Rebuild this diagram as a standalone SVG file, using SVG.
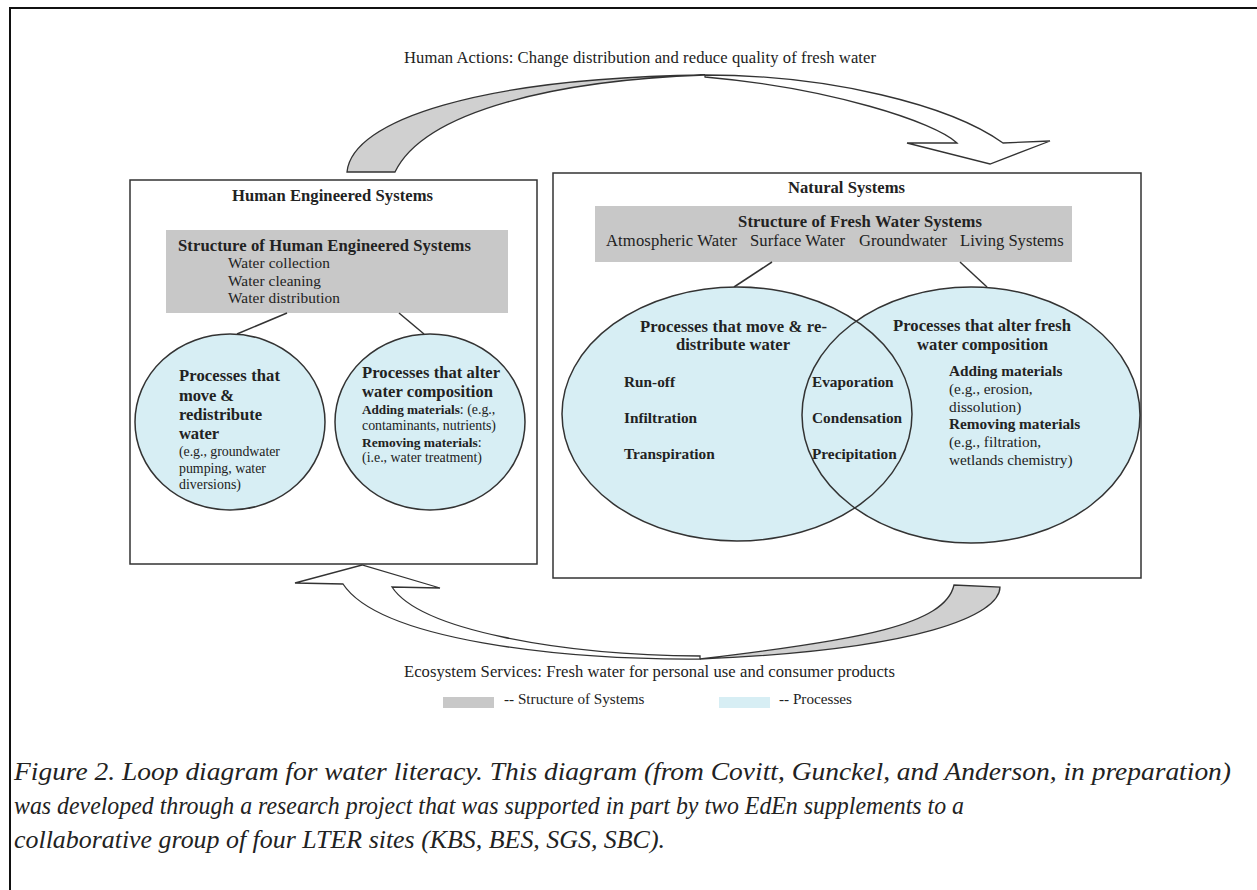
<svg xmlns="http://www.w3.org/2000/svg" width="1257" height="890" viewBox="0 0 1257 890">
<style>
text{font-family:"Liberation Serif","Times New Roman",serif;fill:#222}
.b{font-weight:bold}
.box{fill:#fff;stroke:#333;stroke-width:1.5}
.struct{fill:#c8c8c8}
.pf{fill:#d7eef4}
.ps{fill:none;stroke:#333;stroke-width:1.5}
.link{stroke:#333;stroke-width:1.5;fill:none}
.ag{fill:#d0d0d0;stroke:#333;stroke-width:1.3}
.aw{fill:#fff;stroke:#333;stroke-width:1.3}
.s13{font-size:13.9px}
.s15{font-size:15.3px}
.s16{font-size:16.6px}
.cap{font-style:italic;font-size:26px}
</style>
<rect width="1257" height="890" fill="#fff"/>
<g id="frame"><path d="M10,890 V8 H1257" fill="none" stroke="#111" stroke-width="2"/></g>

<g id="human-box">
<rect class="box" x="130" y="180" width="407" height="384"/>
<text class="b s16" x="232" y="201" textLength="201">Human Engineered Systems</text>
</g>
<g id="natural-box">
<rect class="box" x="553" y="173" width="588" height="405"/>
<text class="b s16" x="788" y="193" textLength="117">Natural Systems</text>
</g>

<g id="human-structure">
<rect class="struct" x="166" y="230" width="342" height="83"/>
<text class="b s16" x="178" y="251" textLength="293">Structure of Human Engineered Systems</text>
<text class="s15" x="228" y="268" textLength="102">Water collection</text>
<text class="s15" x="228" y="286" textLength="93">Water cleaning</text>
<text class="s15" x="228" y="303" textLength="112">Water distribution</text>
</g>
<g id="natural-structure">
<rect class="struct" x="595" y="206" width="477" height="56"/>
<text class="b s16" x="738" y="227" textLength="244">Structure of Fresh Water Systems</text>
<text class="s16" x="606" y="246" textLength="131">Atmospheric Water</text>
<text class="s16" x="750" y="246" textLength="95">Surface Water</text>
<text class="s16" x="859" y="246" textLength="88">Groundwater</text>
<text class="s16" x="960" y="246">Living Systems</text>
</g>

<g id="connectors">
<line class="link" x1="287" y1="313" x2="237" y2="334"/>
<line class="link" x1="399" y1="313" x2="424" y2="334"/>
<line class="link" x1="772" y1="262" x2="734" y2="287"/>
<line class="link" x1="960" y1="262" x2="987" y2="287"/>
<path class="ag" d="M347,172 C352,120 480,78 705,75 C560,80 425,110 395,172 Z"/>
<path class="aw" d="M705,75 C830,75 950,105 1003,143 L1050,141 L990,164 L907,143 L957,143 C935,122 830,88 705,77 Z"/>
<path class="ag" d="M1000,587 C1000,615 920,650 700,659 C860,640 945,625 954,585 Z"/>
<path class="aw" d="M700,659 C560,660 380,640 343,584 L295,583 L362,565 L440,588 L392,587 C420,630 560,655 700,656 Z"/>
</g>

<g id="human-move">
<ellipse class="pf" cx="230" cy="422" rx="95" ry="88"/>
<ellipse class="ps" cx="230" cy="422" rx="95" ry="88"/>
<text class="b s16" x="179" y="381" textLength="101">Processes that</text>
<text class="b s16" x="179" y="401" textLength="55">move &amp;</text>
<text class="b s16" x="179" y="420" textLength="83">redistribute</text>
<text class="b s16" x="179" y="439" textLength="40">water</text>
<text class="s13" x="179" y="456" textLength="101">(e.g., groundwater</text>
<text class="s13" x="179" y="473" textLength="87">pumping, water</text>
<text class="s13" x="179" y="489" textLength="62">diversions)</text>
</g>
<g id="human-alter">
<ellipse class="pf" cx="430" cy="422" rx="95" ry="88"/>
<ellipse class="ps" cx="430" cy="422" rx="95" ry="88"/>
<text class="b s16" x="362" y="378" textLength="138">Processes that alter</text>
<text class="b s16" x="362" y="397" textLength="131">water composition</text>
<text class="s13" x="362" y="414"><tspan class="b" font-size="13.2px">Adding materials</tspan>: (e.g.,</text>
<text class="s13" x="362" y="430" textLength="134">contaminants, nutrients)</text>
<text class="s13" x="362" y="447"><tspan class="b" font-size="13.5px">Removing materials</tspan>:</text>
<text class="s13" x="362" y="462" textLength="120">(i.e., water treatment)</text>
</g>

<g id="natural-processes">
<ellipse class="pf" cx="737" cy="414" rx="175" ry="127"/>
<ellipse class="pf" cx="971" cy="415" rx="169" ry="128"/>
<ellipse class="ps" cx="737" cy="414" rx="175" ry="127"/>
<ellipse class="ps" cx="971" cy="415" rx="169" ry="128" stroke-width="2"/>
</g>
<g id="natural-move">
<text class="b s16" x="640" y="332" textLength="187">Processes that move &amp; re-</text>
<text class="b s16" x="676" y="350" textLength="114">distribute water</text>
<text class="b s15" x="624" y="387">Run-off</text>
<text class="b s15" x="624" y="423">Infiltration</text>
<text class="b s15" x="624" y="459">Transpiration</text>
</g>
<g id="natural-shared">
<text class="b s15" x="812" y="387">Evaporation</text>
<text class="b s15" x="812" y="423">Condensation</text>
<text class="b s15" x="812" y="459">Precipitation</text>
</g>
<g id="natural-alter">
<text class="b s16" x="893" y="331" textLength="178">Processes that alter fresh</text>
<text class="b s16" x="917" y="350" textLength="131">water composition</text>
<text class="b s15" x="949" y="376">Adding materials</text>
<text class="s15" x="949" y="394">(e.g., erosion,</text>
<text class="s15" x="949" y="412">dissolution)</text>
<text class="b s15" x="949" y="429">Removing materials</text>
<text class="s15" x="949" y="447">(e.g., filtration,</text>
<text class="s15" x="949" y="465">wetlands chemistry)</text>
</g>

<g id="labels">
<text class="s16" x="404" y="63" textLength="472">Human Actions: Change distribution and reduce quality of fresh water</text>
<text class="s16" x="404" y="677" textLength="491">Ecosystem Services: Fresh water for personal use and consumer products</text>
</g>

<g id="legend">
<rect class="struct" x="443" y="697" width="51" height="11"/>
<text x="504" y="704" font-size="15.2px">-- Structure of Systems</text>
<rect class="pf" x="719" y="697" width="51" height="11"/>
<text x="779" y="704" font-size="15.2px">-- Processes</text>
</g>

<g id="caption">
<text class="cap" x="14" y="780" textLength="1217" lengthAdjust="spacingAndGlyphs">Figure 2. Loop diagram for water literacy. This diagram (from Covitt, Gunckel, and Anderson, in preparation)</text>
<text class="cap" x="14" y="814" textLength="950" lengthAdjust="spacingAndGlyphs">was developed through a research project that was supported in part by two EdEn supplements to a</text>
<text class="cap" x="14" y="848" textLength="651" lengthAdjust="spacingAndGlyphs">collaborative group of four LTER sites (KBS, BES, SGS, SBC).</text>
</g>
</svg>
